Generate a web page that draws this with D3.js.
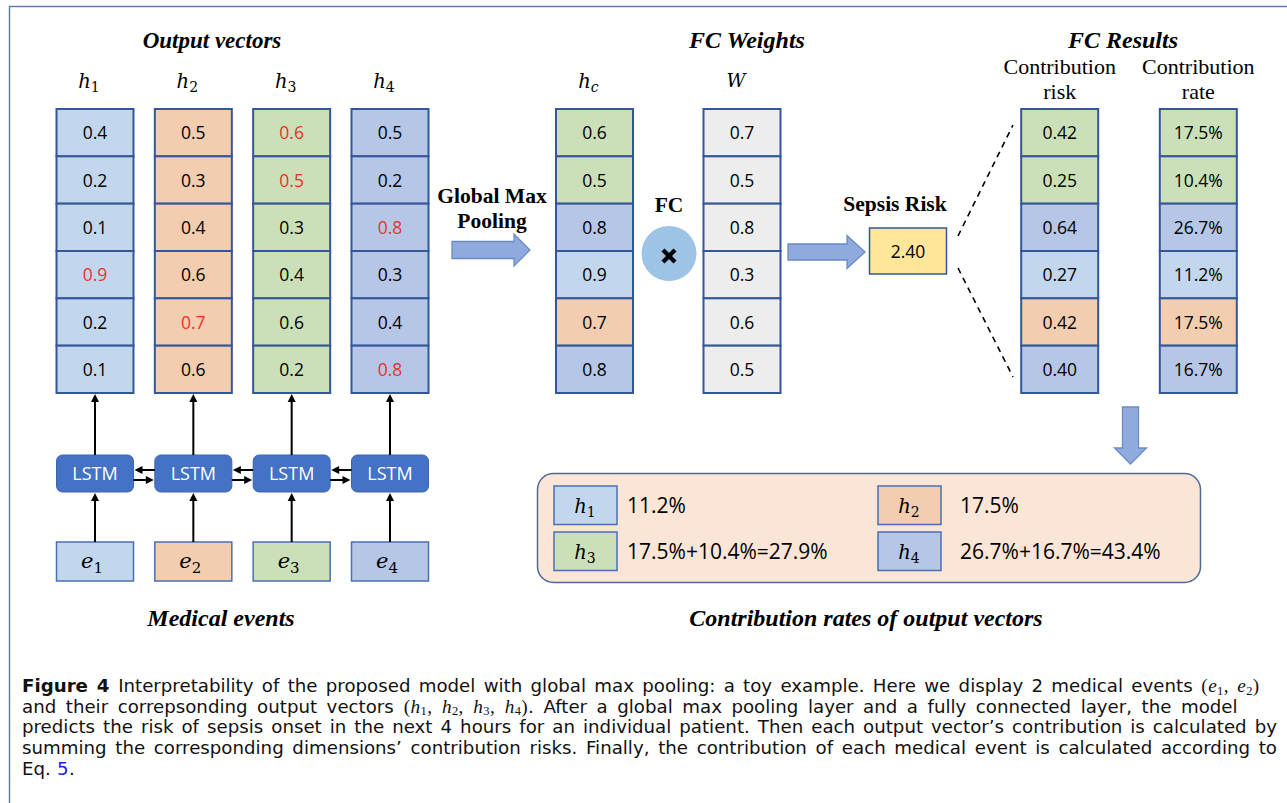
<!DOCTYPE html>
<html><head><meta charset="utf-8">
<script src="https://cdn.jsdelivr.net/npm/d3@7"></script>
<style>body{margin:0;background:#fff}svg{display:block}</style>
</head><body><svg id="fig" width="1287" height="803"></svg>
<script>
// ---------------- data ----------------
const vectorNames = ["h1", "h2", "h3", "h4"];
const vectorSubs = ["1", "2", "3", "4"];
const h1Values = [0.4, 0.2, 0.1, 0.9, 0.2, 0.1];
const h2Values = [0.5, 0.3, 0.4, 0.6, 0.7, 0.6];
const h3Values = [0.6, 0.5, 0.3, 0.4, 0.6, 0.2];
const h4Values = [0.5, 0.2, 0.8, 0.3, 0.4, 0.8];
const fcWeights = [0.7, 0.5, 0.8, 0.3, 0.6, 0.5];
const contributionRisk = [0.42, 0.25, 0.64, 0.27, 0.42, 0.40];
const contributionRate = [17.5, 10.4, 26.7, 11.2, 17.5, 16.7];
const sepsisRisk = 2.40;
const eventSubs = ["1", "2", "3", "4"];
const vectorColors = ["#C2D7EE", "#F2CDB0", "#CBE0B8", "#B5C6E6"];
const weightColor = "#EDEDED";
const titles = ["Output vectors", "FC Weights", "FC Results", "Medical events", "Contribution rates of output vectors"];

// ---------------- setup ----------------
const svg = d3.select("#fig");
const SERIF = "'Liberation Serif', 'Times New Roman', serif";
const MATH = "'DejaVu Serif', serif";
const SANS = "'Open Sans', sans-serif";
const STROKE = "#34579A";
const RED = "#E8332A";
const ARROWFILL = "#8FAADC", ARROWSTROKE = "#6A8CC6";

const vectors = [h1Values, h2Values, h3Values, h4Values];
const nDims = h1Values.length;
const rowScale = d3.scaleBand().domain(d3.range(nDims)).range([109, 393]);
const cellW = 77;
const vecX = d3.scalePoint().domain(vectorNames).range([95, 390]);
const f1 = d3.format(".1f"), f2 = d3.format(".2f");

// max pooling (which vector supplies each dimension)
const argmax = d3.range(nDims).map(i => d3.maxIndex(vectors, v => v[i]));
const hcValues = argmax.map((k, i) => vectors[k][i]);
const hcColors = argmax.map(k => vectorColors[k]);

// frame
svg.append("rect").attr("x", 9.5).attr("y", 6.5).attr("width", 1400).attr("height", 900)
  .attr("fill", "none").attr("stroke", "#5B7AAE").attr("stroke-width", 1.4);

function drawColumn(cx, values, fills, fmt, textFills) {
  const g = svg.append("g");
  g.selectAll("rect").data(values).join("rect")
    .attr("x", cx - cellW / 2).attr("y", (d, i) => rowScale(i))
    .attr("width", cellW).attr("height", rowScale.bandwidth())
    .attr("fill", (d, i) => fills[i]).attr("stroke", STROKE).attr("stroke-width", 2);
  g.selectAll("text").data(values).join("text")
    .attr("x", cx).attr("y", (d, i) => rowScale(i) + rowScale.bandwidth() / 2 + 6.5)
    .attr("text-anchor", "middle").attr("font-family", SANS).attr("font-size", 17.5)
    .attr("fill", (d, i) => textFills ? textFills[i] : "#000").text(fmt);
}

function mathLabel(x, y, base, sub, size, subSize, subItalic, family) {
  const t = svg.append("text").attr("x", x).attr("y", y).attr("text-anchor", "middle")
    .attr("font-family", family || MATH);
  t.append("tspan").attr("font-style", "italic").attr("font-size", size).text(base);
  t.append("tspan").attr("font-size", subSize).attr("dy", size * 0.22)
    .attr("font-style", subItalic ? "italic" : "normal").text(sub);
  return t;
}

function title(x, y, txt, opts) {
  svg.append("text").attr("x", x).attr("y", y).attr("text-anchor", "middle")
    .attr("font-family", SERIF).attr("font-size", opts.size || 20)
    .attr("font-weight", opts.bold ? "bold" : "normal")
    .attr("font-style", opts.italic ? "italic" : "normal").text(txt);
}

function arrowUp(x, y0, y1) { // line from y0 up to tip y1
  svg.append("line").attr("x1", x).attr("x2", x).attr("y1", y0).attr("y2", y1 + 5)
    .attr("stroke", "#000").attr("stroke-width", 2);
  svg.append("path").attr("d", d3.line()([[x, y1], [x - 4, y1 + 8], [x + 4, y1 + 8]]) + "Z").attr("fill", "#000");
}
function arrowH(x0, x1, y) { // from x0 to tip x1
  const dir = Math.sign(x1 - x0);
  svg.append("line").attr("x1", x0).attr("x2", x1 - dir * 5).attr("y1", y).attr("y2", y)
    .attr("stroke", "#000").attr("stroke-width", 2);
  svg.append("path").attr("d", d3.line()([[x1, y], [x1 - dir * 8, y - 4], [x1 - dir * 8, y + 4]]) + "Z").attr("fill", "#000");
}
function blockArrowH(x0, x1, yc, sh, hh, hl) {
  const xs = x1 - hl;
  svg.append("path").attr("d", d3.line()([[x0, yc - sh], [xs, yc - sh], [xs, yc - hh], [x1, yc], [xs, yc + hh], [xs, yc + sh], [x0, yc + sh]]) + "Z")
    .attr("fill", ARROWFILL).attr("stroke", ARROWSTROKE).attr("stroke-width", 1.3);
}
function blockArrowDown(xc, y0, y1, sh, hh, hl) {
  const ys = y1 - hl;
  svg.append("path").attr("d", d3.line()([[xc - sh, y0], [xc + sh, y0], [xc + sh, ys], [xc + hh, ys], [xc, y1], [xc - hh, ys], [xc - sh, ys]]) + "Z")
    .attr("fill", ARROWFILL).attr("stroke", ARROWSTROKE).attr("stroke-width", 1.3);
}

// ---------------- output vectors ----------------
title(212, 48, titles[0], { bold: true, italic: true, size: 23 });
vectorNames.forEach((name, k) => {
  const cx = vecX(name);
  mathLabel(cx - 6, 88, "h", vectorSubs[k], 19.5, 14, false);
  const textFills = d3.range(nDims).map(i => argmax[i] === k ? RED : "#000");
  drawColumn(cx, vectors[k], vectors[k].map(() => vectorColors[k]), f1, textFills);
  // LSTM
  svg.append("rect").attr("x", cx - cellW / 2).attr("y", 455).attr("width", cellW).attr("height", 37)
    .attr("rx", 6).attr("fill", "#4472C4").attr("stroke", "#3D64AE").attr("stroke-width", 1);
  svg.append("text").attr("x", cx).attr("y", 480).attr("text-anchor", "middle")
    .attr("font-family", SANS).attr("font-size", 18).attr("fill", "#fff").text("LSTM");
  arrowUp(cx, 455, 394);
  // events
  svg.append("rect").attr("x", cx - cellW / 2).attr("y", 542).attr("width", cellW).attr("height", 39)
    .attr("fill", vectorColors[k]).attr("stroke", "#4A6FB5").attr("stroke-width", 1.5);
  arrowUp(cx, 542, 493);
  mathLabel(cx - 3, 568, "e", eventSubs[k], 21, 15, false);
});
for (let k = 0; k < vectorNames.length - 1; k++) {
  const a = vecX(vectorNames[k]) + cellW / 2, b = vecX(vectorNames[k + 1]) - cellW / 2;
  arrowH(b, a + 1, 470);
  arrowH(a, b - 1, 480);
}
title(221, 626, titles[3], { bold: true, italic: true, size: 24 });

// ---------------- pooling ----------------
title(492, 203, "Global Max", { bold: true, size: 21.5 });
title(492, 228, "Pooling", { bold: true, size: 21.5 });
blockArrowH(452, 530, 250, 8.5, 16, 16);

const hcX = 594.5, wX = 742;
mathLabel(hcX - 6, 88, "h", "c", 19.5, 14, true);
drawColumn(hcX, hcValues, hcColors, f1);

// FC circle
title(669, 212, "FC", { bold: true, size: 21.5 });
svg.append("circle").attr("cx", 669).attr("cy", 253.5).attr("r", 27.5).attr("fill", "#9DC3E6");
[[-6, -6, 6, 6], [-6, 6, 6, -6]].forEach(s => svg.append("line")
  .attr("x1", 669 + s[0]).attr("y1", 256 + s[1]).attr("x2", 669 + s[2]).attr("y2", 256 + s[3])
  .attr("stroke", "#000").attr("stroke-width", 4.2));

title(747, 48, titles[1], { bold: true, italic: true, size: 24 });
svg.append("text").attr("x", wX - 6).attr("y", 87).attr("text-anchor", "middle")
  .attr("font-family", MATH).attr("font-style", "italic").attr("font-size", 18.5).text("W");
drawColumn(wX, fcWeights, fcWeights.map(() => weightColor), f1);

// ---------------- sepsis risk ----------------
blockArrowH(788, 865, 252, 8, 16.5, 18);
title(895, 211, "Sepsis Risk", { bold: true, size: 21.5 });
svg.append("rect").attr("x", 869.5).attr("y", 228).attr("width", 77).attr("height", 46)
  .attr("fill", "#FFE699").attr("stroke", STROKE).attr("stroke-width", 1.5);
svg.append("text").attr("x", 908).attr("y", 257.5).attr("text-anchor", "middle")
  .attr("font-family", SANS).attr("font-size", 17.5).text(f2(sepsisRisk));
[[958, 236, 1013, 125], [958, 268, 1013, 377]].forEach(s => svg.append("line")
  .attr("x1", s[0]).attr("y1", s[1]).attr("x2", s[2]).attr("y2", s[3])
  .attr("stroke", "#000").attr("stroke-width", 1.6).attr("stroke-dasharray", "6,5"));

// ---------------- FC results ----------------
const riskX = 1059.7, rateX = 1198.3;
title(1123, 48, titles[2], { bold: true, italic: true, size: 24 });
title(riskX, 74, "Contribution", { size: 22 });
title(riskX, 99, "risk", { size: 22 });
title(rateX, 74, "Contribution", { size: 22 });
title(rateX, 99, "rate", { size: 22 });
drawColumn(riskX, contributionRisk, hcColors, f2);
drawColumn(rateX, contributionRate, hcColors, d => f1(d) + "%");
blockArrowDown(1130.5, 407, 464, 8, 16, 16);

// ---------------- summary box ----------------
svg.append("rect").attr("x", 537.5).attr("y", 473.5).attr("width", 663).attr("height", 109).attr("rx", 16)
  .attr("fill", "#FBE5D6").attr("stroke", "#4C6A9C").attr("stroke-width", 1.5);
const legX = [554, 878], legTextX = [627, 960], legY = [486, 532];
vectorNames.forEach((name, k) => {
  const col = k % 2, row = Math.floor(k / 2);
  const parts = contributionRate.filter((d, i) => argmax[i] === k);
  const label = parts.length === 1 ? f1(parts[0]) + "%"
    : parts.map(d => f1(d) + "%").join("+") + "=" + f1(d3.sum(parts)) + "%";
  svg.append("rect").attr("x", legX[col]).attr("y", legY[row]).attr("width", 63).attr("height", 38.5)
    .attr("fill", vectorColors[k]).attr("stroke", "#4A6FB5").attr("stroke-width", 1.5);
  mathLabel(legX[col] + 31, legY[row] + 27, "h", vectorSubs[k], 19.5, 14, false);
  svg.append("text").attr("x", legTextX[col]).attr("y", legY[row] + 27).attr("font-family", SANS)
    .attr("font-size", 21).text(label);
});
title(866, 626, titles[4], { bold: true, italic: true, size: 24 });

// ---------------- caption ----------------
const captionLines = [
  [["b", "Figure 4"], ["n", " Interpretability of the proposed model with global max pooling: a toy example. Here we display 2 medical events "], ["m", "(e_1, e_2)"]],
  [["n", "and their correpsonding output vectors "], ["m", "(h_1, h_2, h_3, h_4)"], ["n", ". After a global max pooling layer and a fully connected layer, the model"]],
  [["n", "predicts the risk of sepsis onset in the next 4 hours for an individual patient. Then each output vector\u2019s contribution is calculated by"]],
  [["n", "summing the corresponding dimensions\u2019 contribution risks. Finally, the contribution of each medical event is calculated according to"]],
  [["n", "Eq."], ["l", " 5"], ["n", "."]]
];
const captionWidths = [1234, 1210, 1255, 1255, null];
const captionBase = [692, 712.5, 733, 754, 775];
const CAPFONT = "'DejaVu Sans', sans-serif", capSize = 18.2;

function captionTokens(segs) {
  const items = [];
  let gap = false;
  const push = (o) => { o.gap = gap; gap = false; items.push(o); };
  segs.forEach(([kind, str]) => {
    if (kind === "m") {
      let roman = "";
      const flush = () => { if (roman) { push({ s: roman, font: SERIF, size: capSize + 1 }); roman = ""; } };
      for (let i = 0; i < str.length; i++) {
        const c = str[i];
        if (c === " ") { flush(); gap = true; }
        else if (c === "_") { flush(); push({ s: str[i + 1], font: SERIF, size: 12.5, dy: 2.5 }); i++; }
        else if (/[a-z]/i.test(c)) { flush(); push({ s: c, font: SERIF, size: capSize + 1, italic: true }); }
        else roman += c;
      }
      flush();
    } else {
      if (str.startsWith(" ")) gap = true;
      const s = str.trim();
      push({ s, font: CAPFONT, size: capSize, bold: kind === "b", fill: kind === "l" ? "#1F1FE0" : "#111", text: true });
      if (str.endsWith(" ")) gap = true;
    }
  });
  return items;
}

const measure = svg.append("text").attr("font-family", CAPFONT).attr("font-size", capSize).attr("x", -999).attr("y", -999);
const spaceW = measure.text("x x").node().getComputedTextLength() - measure.text("xx").node().getComputedTextLength();
measure.remove();

captionLines.forEach((segs, li) => {
  const g = svg.append("g");
  const items = captionTokens(segs);
  items.forEach(it => {
    it.el = g.append("text").attr("y", captionBase[li] + (it.dy || 0))
      .attr("font-family", it.font).attr("font-size", it.size)
      .attr("font-weight", it.bold ? "bold" : "normal")
      .attr("font-style", it.italic ? "italic" : "normal")
      .attr("fill", it.fill || "#111").text(it.s);
    it.w = it.el.node().getComputedTextLength();
    it.spaces = it.text ? (it.s.match(/ /g) || []).length : 0;
  });
  const gaps = items.filter(d => d.gap).length;
  const natural = d3.sum(items, d => d.w) + gaps * spaceW;
  const nSp = d3.sum(items, d => d.spaces) + gaps;
  let extra = captionWidths[li] ? (captionWidths[li] - natural) / nSp : 0;
  if (!captionWidths[li]) extra = 0;
  // if the line is too long, shrink uniformly instead of negative spacing
  if (extra < -1.5) {
    const k = captionWidths[li] / natural;
    items.forEach(it => { it.el.attr("font-size", it.size * k); it.w *= k; });
    extra = 0;
  }
  let x = 22;
  items.forEach(it => {
    if (it.gap) x += spaceW + extra;
    it.el.attr("x", x).attr("word-spacing", it.spaces ? extra : null);
    x += it.w + it.spaces * extra + 0.4;
  });
});
</script></body></html>
